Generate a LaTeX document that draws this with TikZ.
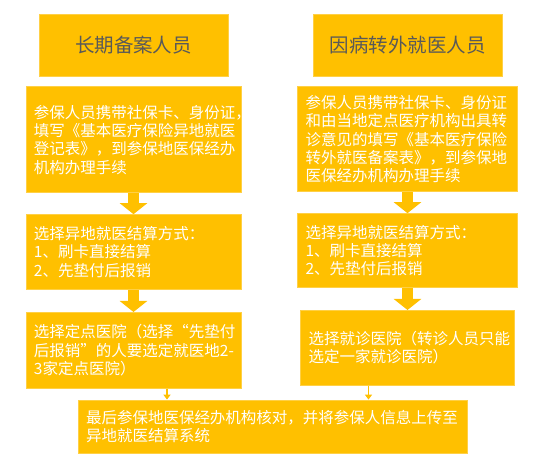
\documentclass[tikz,border=0pt]{standalone}
\usepackage{fontspec}
\setmainfont{Noto Sans CJK SC}
\usepackage{tikz}
\usetikzlibrary{positioning,arrows.meta,calc}
\definecolor{boxGold}{RGB}{255,192,0}
\definecolor{edgeGold}{RGB}{255,208,70}
\definecolor{titleGray}{RGB}{89,89,89}

\begin{document}
\begin{tikzpicture}[x=1pt,y=1pt,
  titlebox/.style={draw=edgeGold,line width=0.8pt,fill=boxGold,minimum width=189pt,minimum height=62pt,
    text=titleGray,font=\fontsize{19.5}{22}\selectfont},
  infobox/.style={draw=edgeGold,line width=0.8pt,fill=boxGold,inner xsep=8pt,inner ysep=4pt,align=left,
    text=white,font=\fontsize{15.5}{18.4}\selectfont},
  flow/.style={draw=boxGold,line width=11pt,-{Triangle[width=27pt,length=11pt]}},
  link/.style={draw=boxGold,line width=1.6pt,-{Triangle[width=7pt,length=5pt]}}]
\useasboundingbox[fill=white] (0,0) rectangle (539,-468);
% --- long-term residents ---
\node[titlebox] (ltitle) at (133.5,-45) {长期备案人员};
\node[infobox,below=10pt of ltitle,text width=199pt,minimum height=106pt] (lreg)
  {参保人员携带社保卡、身份证\rlap{，}\\填写《基本医疗保险异地就医\\登记表》，到参保地医保经办\\机构办理手续};
\node[infobox,below=21pt of lreg,text width=199pt,minimum height=75pt] (lpay)
  {选择异地就医结算方式：\\1、刷卡直接结算\\2、先垫付后报销};
\node[infobox,below=22pt of lpay,text width=199pt,minimum height=76pt] (lhosp)
  {选择定点医院（选择“先垫付\\\mbox{后报销”的人要选定就医地2-}\\3家定点医院）};
% --- transferred patients ---
\node[titlebox] (rtitle) at (407.5,-45) {因病转外就医人员};
\node[infobox,below=10pt of rtitle,text width=204pt,minimum height=105pt] (rreg)
  {参保人员携带社保卡、身份证\\和由当地定点医疗机构出具转\\诊意见的填写《基本医疗保险\\转外就医备案表》，到参保地\\医保经办机构办理手续};
\node[infobox,below=21pt of rreg,text width=204pt,minimum height=74pt] (rpay)
  {选择异地就医结算方式：\\1、刷卡直接结算\\2、先垫付后报销};
\node[infobox,below=22pt of rpay,text width=198pt,minimum height=75pt] (rhosp)
  {选择就诊医院（转诊人员只能\\选定一家就诊医院）};
% --- final check ---
\node[infobox,text width=373pt,minimum height=53pt] (final) at (272.5,-426.5)
  {最后参保地医保经办机构核对，并将参保人信息上传至\\异地就医结算系统};
% --- arrows ---
\draw[flow] (lreg.south) -- (lpay.north);
\draw[flow] (lpay.south) -- (lhosp.north);
\draw[flow] (rreg.south) -- (rpay.north);
\draw[flow] (rpay.south) -- (rhosp.north);
\draw[link] ([xshift=33.5pt]lhosp.south) -- ([xshift=33.5pt]lhosp.south |- final.north);
\draw[link] ([xshift=-39pt]rhosp.south) -- ([xshift=-39pt]rhosp.south |- final.north);
\end{tikzpicture}
\end{document}
